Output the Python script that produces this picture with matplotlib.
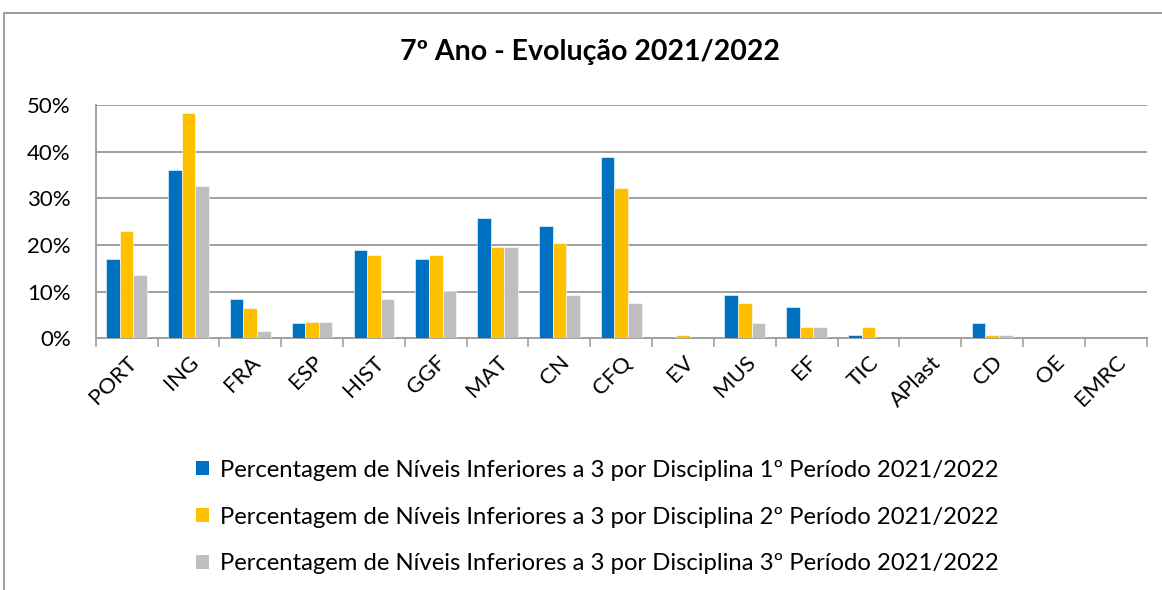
import matplotlib
matplotlib.use("Agg")
import matplotlib.pyplot as plt
from matplotlib.patches import Rectangle, Patch
from matplotlib.ticker import FixedLocator, PercentFormatter
import numpy as np

categories = ["PORT", "ING", "FRA", "ESP", "HIST", "GGF", "MAT", "CN", "CFQ", "EV",
              "MUS", "EF", "TIC", "APlast", "CD", "OE", "EMRC"]
periodo1 = [17.1, 36.0, 8.5, 3.3, 18.9, 17.1, 25.8, 24.1, 38.8, 0.0,
            9.3, 6.7, 0.7, 0.0, 3.3, 0.0, 0.0]
periodo2 = [23.0, 48.2, 6.5, 3.4, 17.9, 17.9, 19.6, 20.4, 32.2, 0.7,
            7.6, 2.4, 2.4, 0.0, 0.7, 0.0, 0.0]
periodo3 = [13.6, 32.6, 1.6, 3.4, 8.4, 10.1, 19.6, 9.3, 7.6, 0.0,
            3.3, 2.4, 0.0, 0.0, 0.7, 0.0, 0.0]
series_labels = [
    "Percentagem de Níveis Inferiores a 3 por Disciplina 1º Período 2021/2022",
    "Percentagem de Níveis Inferiores a 3 por Disciplina 2º Período 2021/2022",
    "Percentagem de Níveis Inferiores a 3 por Disciplina 3º Período 2021/2022",
]
title = "7º Ano - Evolução 2021/2022"
colors = ["#0070C0", "#FFC000", "#BFBFBF"]

plt.rcParams['font.family'] = ['Lato', 'DejaVu Sans']

W, H = 1162, 590
fig = plt.figure(figsize=(W / 100, H / 100), dpi=100)
ax = fig.add_axes([95.7 / W, 1 - 338.3 / H, (1146.7 - 95.7) / W, (338.3 - 105) / H])

# outer chart border
fig.patches.append(Rectangle((4 / W, -0.01), (W + 10) / W, (590 - 12.5) / H + 0.01,
                             transform=fig.transFigure, fill=False,
                             edgecolor="#8C8C8C", linewidth=1.2))

x = np.arange(len(categories))
bw = 0.22
for i, (vals, c, lab) in enumerate(zip([periodo1, periodo2, periodo3], colors, series_labels)):
    ax.bar(x + (i - 1) * bw, vals, width=bw, color=c, edgecolor="white",
           linewidth=0.4, label=lab, zorder=3)

ax.set_xlim(-0.5, len(categories) - 0.5)
ax.set_ylim(0, 50)
ax.yaxis.set_major_locator(FixedLocator([0, 10, 20, 30, 40, 50]))
ax.yaxis.set_major_formatter(PercentFormatter(decimals=0))
ax.grid(axis="y", color="#A0A0A0", linewidth=1.4, zorder=0)
ax.set_axisbelow(True)

for s in ["top", "right"]:
    ax.spines[s].set_visible(False)
ax.spines["left"].set_color("#A0A0A0")
ax.spines["left"].set_linewidth(1.4)
ax.spines["bottom"].set_color("#A0A0A0")
ax.spines["bottom"].set_linewidth(1.4)

ax.set_xticks(x)
ax.set_xticklabels(categories, rotation=45, ha="right", va="top",
                   rotation_mode="anchor", fontsize=16)
ax.tick_params(axis="x", which="major", length=0, pad=10)
ax.set_xticks(np.arange(len(categories) + 1) - 0.5, minor=True)
ax.tick_params(axis="x", which="minor", length=6.5, width=1.2, color="#A0A0A0", direction="out")
ax.tick_params(axis="y", length=0, pad=18, labelsize=16)

fig.text(590 / W, 1 - 52 / H, title, ha="center", va="center",
         fontsize=20.5, fontweight="bold")

handles = [Patch(facecolor=c, edgecolor="none") for c in colors]
fig.legend(handles, series_labels, loc="center", bbox_to_anchor=(597 / W, 1 - 517 / H),
           ncol=1, frameon=False, fontsize=17.2, handlelength=0.55, handleheight=0.55,
           handletextpad=0.45, labelspacing=1.08)

fig.savefig("out.png", dpi=100)
